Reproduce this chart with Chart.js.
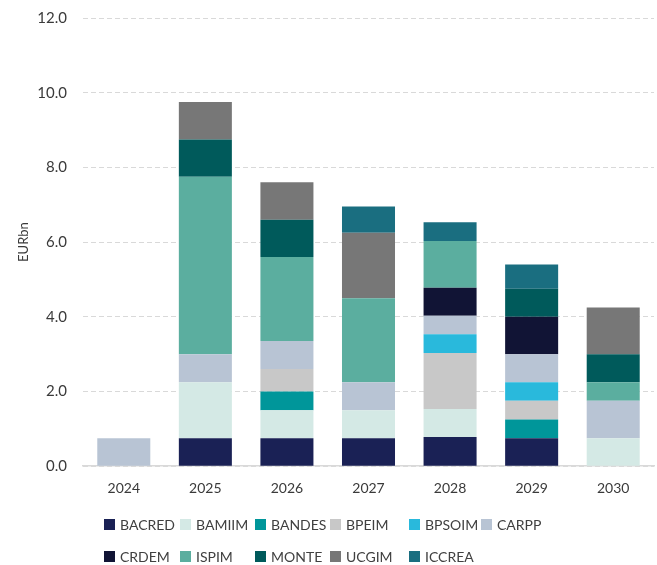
<!DOCTYPE html>
<html>
<head>
<meta charset="utf-8">
<script src="https://cdn.jsdelivr.net/npm/chart.js@4/dist/chart.umd.min.js"></script>
<style>
  html, body { margin:0; padding:0; background:#fff; overflow:hidden; }
  #wrap { position:relative; width:657px; height:565px; overflow:hidden; }
  #box  { position:absolute; left:0; top:-7px; width:657px; height:527px; }
  #legend {
    position:absolute; left:104px; top:514px; width:520px;
    display:grid; grid-template-columns:76px 75px 75px 79px 72px 80px;
    row-gap:12px; font-family:Lato, sans-serif; font-size:14px; color:#404040;
  }
  #legend span { display:flex; align-items:center; white-space:nowrap; height:20px; }
  #legend i { display:inline-block; width:11px; height:11px; margin-right:5px; }
</style>
</head>
<body>
<div id="wrap">
  <div id="box"><canvas id="c"></canvas></div>
  <div id="legend"></div>
</div>
<script>
/* ── Data ── */
const years  = ['2024', '2025', '2026', '2027', '2028', '2029', '2030'];
const BACRED = [0,    0.75, 0.75, 0.75, 0.78, 0.75, 0];
const BAMIIM = [0,    1.5,  0.75, 0.75, 0.75, 0,    0.75];
const BANDES = [0,    0,    0.5,  0,    0,    0.5,  0];
const BPEIM  = [0,    0,    0.6,  0,    1.5,  0.5,  0];
const BPSOIM = [0,    0,    0,    0,    0.5,  0.5,  0];
const CARPP  = [0.75, 0.75, 0.75, 0.75, 0.5,  0.75, 1.0];
const CRDEM  = [0,    0,    0,    0,    0.75, 1.0,  0];
const ISPIM  = [0,    4.75, 2.25, 2.25, 1.25, 0,    0.5];
const MONTE  = [0,    1.0,  1.0,  0,    0,    0.75, 0.75];
const UCGIM  = [0,    1.0,  1.0,  1.75, 0,    0,    1.25];
const ICCREA = [0,    0,    0,    0.7,  0.5,  0.65, 0];
const yTicks = [0, 2, 4, 6, 8, 10, 12];

/* ── Palette ── */
const series = [
  ['BACRED', BACRED, '#1a2155'],
  ['BAMIIM', BAMIIM, '#d4e9e5'],
  ['BANDES', BANDES, '#00969a'],
  ['BPEIM',  BPEIM,  '#c8c8c8'],
  ['BPSOIM', BPSOIM, '#29b9dc'],
  ['CARPP',  CARPP,  '#b8c4d4'],
  ['CRDEM',  CRDEM,  '#111435'],
  ['ISPIM',  ISPIM,  '#5bae9f'],
  ['MONTE',  MONTE,  '#005a5b'],
  ['UCGIM',  UCGIM,  '#777777'],
  ['ICCREA', ICCREA, '#1a6e80'],
];

Chart.defaults.font.family = 'Lato, sans-serif';
Chart.defaults.font.size   = 15;
Chart.defaults.color       = '#3a3a3a';

const chart = new Chart(document.getElementById('c'), {
  type: 'bar',
  data: {
    labels: years,
    datasets: series.map(([label, data, color]) => ({
      label, data, backgroundColor: color, borderWidth: 0,
      barPercentage: 0.65, categoryPercentage: 1,
    })),
  },
  options: {
    responsive: true, maintainAspectRatio: false, animation: false,
    layout: { padding: { top: 1, right: 3, left: 0, bottom: 9 } },
    plugins: { legend: { display: false }, tooltip: { enabled: false } },
    scales: {
      x: {
        stacked: true,
        grid: { display: false, drawTicks: false },
        border: { display: true, color: '#d9d9d9', width: 1.5 },
        ticks: { padding: 14, font: { size: 14 } },
      },
      y: {
        stacked: true, min: 0, max: 12,
        afterBuildTicks: s => { s.ticks = yTicks.map(v => ({ value: v })); },
        afterFit: s => { s.width = 83; },
        grid: { color: '#d9d9d9', lineWidth: 1, drawTicks: false },
        border: { display: false, dash: [5, 3] },
        ticks: { padding: 16, callback: v => v.toFixed(1) },
        title: { display: true, text: 'EURbn', font: { size: 13 }, padding: { top: 16, bottom: 0 } },
      },
    },
  },
});

/* ── Legend ── */
const legend = document.getElementById('legend');
chart.data.datasets.forEach(ds => {
  const el = document.createElement('span');
  el.innerHTML = `<i style="background:${ds.backgroundColor}"></i>${ds.label}`;
  legend.appendChild(el);
});
</script>
</body>
</html>
